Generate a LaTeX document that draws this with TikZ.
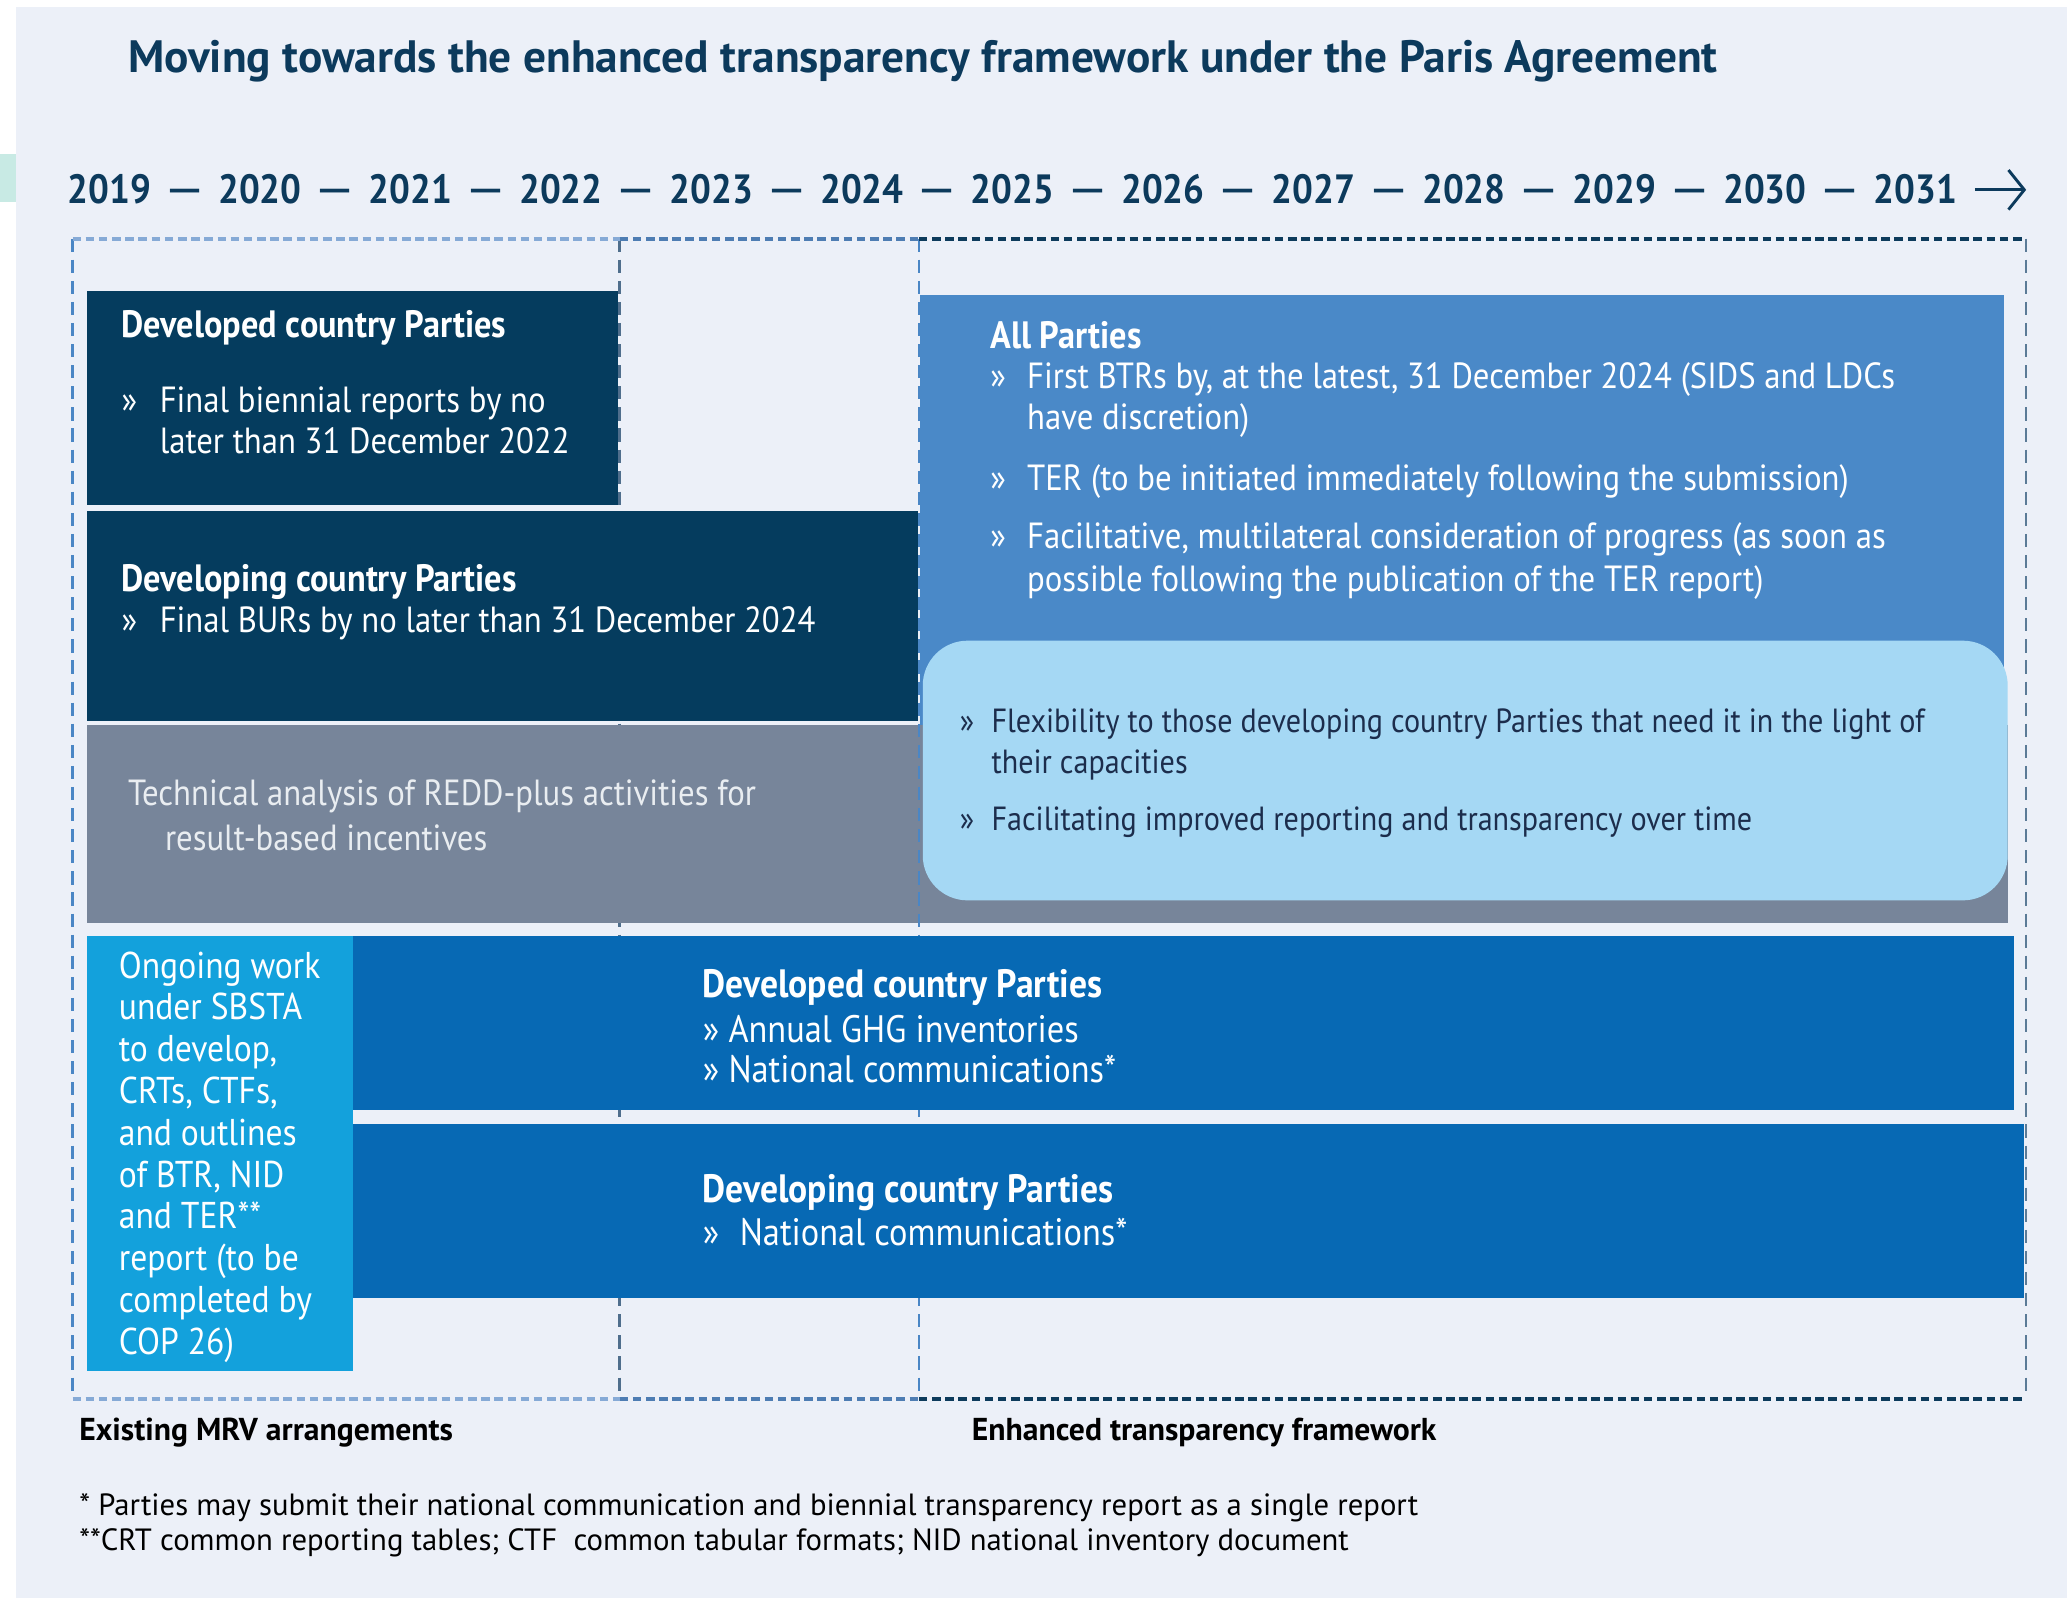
\documentclass[tikz,border=0pt]{standalone}
\usepackage{fontspec}
\setmainfont{PT Sans}[FakeStretch=0.9]
\newfontfamily\widefont{PT Sans}
\usetikzlibrary{arrows.meta}
\definecolor{bgc}{HTML}{ECF0F8}
\definecolor{tealc}{HTML}{C8EAE4}
\definecolor{navy}{HTML}{053C5E}
\definecolor{titlec}{HTML}{0C3A5C}
\definecolor{greyc}{HTML}{77859A}
\definecolor{allc}{HTML}{4A89C8}
\definecolor{roundc}{HTML}{A5D8F4}
\definecolor{ongc}{HTML}{13A1DC}
\definecolor{rowc}{HTML}{0769B4}
\definecolor{dlight}{HTML}{86AAD6}
\definecolor{dmid}{HTML}{4E7DB3}
\definecolor{ddark}{HTML}{0D3B5C}
\definecolor{vblue}{HTML}{4A86C5}
\definecolor{vgrey}{HTML}{4F6E8C}
\definecolor{vright}{HTML}{5B7B97}
\definecolor{roundtext}{HTML}{1C2D4C}
\definecolor{greytext}{HTML}{E9EDF1}
\tikzset{
  txt/.style={inner sep=0pt, anchor=base west},
  body/.style={txt, text=white, font=\fontsize{27.6}{32}\selectfont},
  bodyb/.style={body, font=\fontsize{28.9}{33}\selectfont\bfseries},
  rowtxt/.style={txt, text=white, font=\fontsize{29}{34}\selectfont},
  rowb/.style={rowtxt, font=\fontsize{30}{35}\selectfont\bfseries},
  smalltxt/.style={txt, text=roundtext, font=\fontsize{25.4}{30}\selectfont},
  ongtxt/.style={txt, text=white, font=\fontsize{28.3}{33}\selectfont},
  yeartxt/.style={inner sep=0pt, anchor=base, text=titlec, font=\fontsize{31}{36}\selectfont\bfseries},
  dashtxt/.style={inner sep=0pt, anchor=base, text=titlec, font=\widefont\fontsize{38}{42}\selectfont},
  foot/.style={txt, text=black, font=\widefont\fontsize{23.3}{27}\selectfont},
  footb/.style={txt, text=black, font=\widefont\fontsize{24}{28}\selectfont\bfseries},
  hdash/.style={line width=3pt, dash pattern=on 6.5pt off 3.5pt},
  vdash/.style={line width=2pt, dash pattern=on 10pt off 6pt},
}
\begin{document}
\begin{tikzpicture}[x=1pt,y=-1pt]
\useasboundingbox (0,0) rectangle (1568,1212);
\fill[white] (0,0) rectangle (1568,1212);
\fill[bgc] (12,5) rectangle (1568,1212);
\fill[tealc] (0,117) rectangle (12,153);

% title
\node[txt, text=titlec, font=\widefont\fontsize{34.4}{40}\selectfont\bfseries] (title) at (97,55)
  {Moving towards the enhanced transparency framework under the Paris Agreement};

% years
\foreach \yr [count=\i from 0] in {2019,2020,2021,2022,2023,2024,2025,2026,2027,2028,2029,2030,2031}
  \node[yeartxt] (yr\i) at ({83+114.17*\i},154) {\yr};
\foreach \i in {0,...,11}
  \node[dashtxt] (dsh\i) at ({140+114.17*\i},156) {—};
\coordinate (arrS) at (1498,144);
\coordinate (arrE) at (1537,144);
\draw[titlec, line width=2.2pt, -{Straight Barb[length=12pt,width=30pt,line width=2.2pt]}] (arrS) -- (arrE);

% outer dashed frame
\coordinate (tl) at (55,181);
\coordinate (t1) at (470,181);
\coordinate (t2) at (697,181);
\coordinate (tr) at (1537,181);
\coordinate (bl) at (55,1061);
\coordinate (b1) at (470,1061);
\coordinate (b2) at (697,1061);
\coordinate (br) at (1537,1061);

\fill[navy] (66,221) rectangle (469,383);
\draw[vgrey, vdash] (t1) -- (b1);
\fill[greyc] (66,550) rectangle (1523,700);
\draw[vblue, vdash] (tl) -- (bl);
\draw[vblue, vdash] (t2) -- (b2);
\draw[vright, vdash] (tr) -- (br);
\draw[dlight, hdash] (tl) -- (t1);
\draw[dmid, hdash] (t1) -- (t2);
\draw[ddark, hdash] (t2) -- (tr);
\draw[dlight, hdash] (bl) -- (b1);
\draw[dmid, hdash] (b1) -- (b2);
\draw[ddark, hdash] (b2) -- (br);

% remaining boxes
\fill[navy] (66,388) rectangle (696,547);
\fill[allc] (698,224) rectangle (1520,550);
\fill[roundc, rounded corners=34pt] (700,486) rectangle (1523,683);
\fill[ongc] (66,710) rectangle (268,1040);
\fill[rowc] (268,710) rectangle (1528,842);
\fill[rowc] (268,853) rectangle (1535,985);

% box 1
\node[bodyb] (b1h) at (92,256) {Developed country Parties};
\node[body] (b1m) at (92,313) {»};
\node[body] (b1a) at (121,313) {Final biennial reports by no};
\node[body] (b1b) at (121,344) {later than 31 December 2022};

% box 2
\node[bodyb] (b2h) at (92,449) {Developing country Parties};
\node[body] (b2m) at (92,480) {»};
\node[body] (b2a) at (121,480) {Final BURs by no later than 31 December 2024};

% grey
\node[body, text=greytext] (g1) at (97,611) {Technical analysis of REDD-plus activities for};
\node[body, text=greytext] (g2) at (125,645) {result-based incentives};

% all parties
\node[bodyb] (aph) at (751,264) {All Parties};
\node[body] (apm1) at (751,295) {»};
\node[body] (ap1a) at (779,295) {First BTRs by, at the latest, 31 December 2024 (SIDS and LDCs};
\node[body] (ap1b) at (779,326) {have discretion)};
\node[body] (apm2) at (751,372) {»};
\node[body] (ap2a) at (779,372) {TER (to be initiated immediately following the submission)};
\node[body] (apm3) at (751,416) {»};
\node[body] (ap3a) at (779,416) {Facilitative, multilateral consideration of progress (as soon as};
\node[body] (ap3b) at (779,449) {possible following the publication of the TER report)};

% rounded box
\node[smalltxt] (rm1) at (728,556) {»};
\node[smalltxt] (r1a) at (752,556) {Flexibility to those developing country Parties that need it in the light of};
\node[smalltxt] (r1b) at (752,587) {their capacities};
\node[smalltxt] (rm2) at (728,630) {»};
\node[smalltxt] (r2a) at (752,630) {Facilitating improved reporting and transparency over time};

% ongoing
\foreach \t [count=\i from 0] in {Ongoing work,under SBSTA,{to develop,},{CRTs, CTFs,},and outlines,{of BTR, NID},and TER**,report (to be,completed by,COP 26)}
  \node[ongtxt] (og\i) at (90,{742+31.7*\i}) {\t};

% row 4
\node[rowb] (r4h) at (533,757) {Developed country Parties};
\node[rowtxt] (r4a) at (533,791) {» Annual GHG inventories};
\node[rowtxt] (r4b) at (533,821) {» National communications*};

% row 5
\node[rowb] (r5h) at (533,912) {Developing country Parties};
\node[rowtxt] (r5m) at (533,945) {»};
\node[rowtxt] (r5a) at (561,945) {National communications*};

% labels
\node[footb] (lab1) at (60,1093) {Existing MRV arrangements};
\node[footb] (lab2) at (737,1093) {Enhanced transparency framework};
\node[foot] (fn1) at (60,1150) {* Parties may submit their national communication and biennial transparency report as a single report};
\node[foot] (fn2) at (60,1176) {**CRT common reporting tables; CTF\ \ common tabular formats; NID national inventory document};
\end{tikzpicture}
\end{document}
